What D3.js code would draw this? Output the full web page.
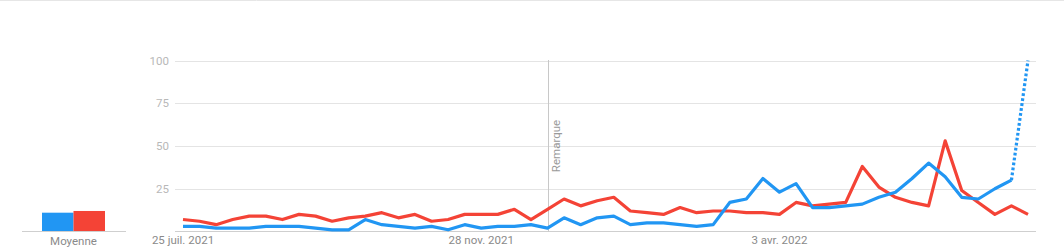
<!DOCTYPE html>
<html>
<head>
<meta charset="utf-8">
<script src="https://cdn.jsdelivr.net/npm/d3@7"></script>
<style>
  body { margin: 0; background: #fff; }
  svg { display: block; font-family: Roboto, "Noto Sans", sans-serif; }
</style>
</head>
<body>
<svg id="canvas" width="1064" height="252"></svg>
<script>
/** Weekly values, from 25 juil. 2021 */
const blueValues = [3, 3, 2, 2, 2, 3, 3, 3, 2, 1, 1, 7, 4, 3, 2, 3, 1, 4, 2, 3, 3, 4, 2, 8, 4, 8,
    9, 4, 5, 5, 4, 3, 4, 17, 19, 31, 23, 28, 14, 14, 15, 16, 20, 23, 31, 40, 32, 20, 19, 25, 30, 100];
const redValues = [7, 6, 4, 7, 9, 9, 7, 10, 9, 6, 8, 9, 11, 8, 10, 6, 7, 10, 10, 10, 13, 7, 13, 19, 15, 18,
    20, 12, 11, 10, 14, 11, 12, 12, 11, 11, 10, 17, 15, 16, 17, 38, 26, 20, 17, 15, 53, 24, 17, 10, 15, 10];

/** Averages shown on the left */
const averageLabels = ['blue', 'red'];
const averageValues = [11, 12];

const seriesColors = ['#2196f3', '#f44336'];

const yTicks = [25, 50, 75, 100];
const xTickDates = [Date.UTC(2021, 6, 25), Date.UTC(2021, 10, 28), Date.UTC(2022, 3, 3)];
const xTickLabels = ['25 juil. 2021', '28 nov. 2021', '3 avr. 2022'];
const noteDate = Date.UTC(2021, 11, 26);
const noteLabel = 'Remarque';

const startDate = Date.UTC(2021, 6, 25);
const weekMs = 7 * 24 * 3600 * 1000;
const dates = blueValues.map((v, i) => new Date(startDate + i * weekMs));

let canvas = d3.select('#canvas');

/** Top border */
canvas.append('line')
    .attr('x1', 0).attr('x2', 1064)
    .attr('y1', 0.5).attr('y2', 0.5)
    .attr('stroke', '#e6e6e6');

/** Scales */
let y = d3.scaleLinear().domain([0, 100]).range([231.5, 60.5]);
let x = d3.scaleTime()
    .domain([dates[0], dates[dates.length - 1]])
    .range([183, 1028]);

/** Grid lines */
canvas.append('g')
    .selectAll('line')
    .data(yTicks)
    .enter()
    .append('line')
    .attr('x1', 175).attr('x2', 1036)
    .attr('y1', (d) => Math.round(y(d)) + 0.5)
    .attr('y2', (d) => Math.round(y(d)) + 0.5)
    .attr('stroke', '#e4e4e4');

canvas.append('line')
    .attr('x1', 175).attr('x2', 1036)
    .attr('y1', y(0)).attr('y2', y(0))
    .attr('stroke', '#cfcfcf');

/** Y tick labels */
canvas.append('g')
    .selectAll('text')
    .data(yTicks)
    .enter()
    .append('text')
    .attr('x', 169)
    .attr('y', (d) => y(d) + 4)
    .attr('text-anchor', 'end')
    .attr('font-size', 11.5)
    .attr('fill', '#b8b8b8')
    .text((d) => d);

/** X tick labels */
canvas.append('g')
    .selectAll('text')
    .data(xTickDates)
    .enter()
    .append('text')
    .attr('x', (d) => x(new Date(d)))
    .attr('y', 244)
    .attr('text-anchor', 'middle')
    .attr('font-size', 11.5)
    .attr('fill', '#8a8a8a')
    .text((d, i) => xTickLabels[i]);

/** Note marker */
let noteX = Math.round(x(new Date(noteDate))) + 0.5;
canvas.append('line')
    .attr('x1', noteX).attr('x2', noteX)
    .attr('y1', 60).attr('y2', y(0))
    .attr('stroke', '#c8c8c8');
canvas.append('text')
    .attr('transform', `translate(${noteX + 11},146) rotate(-90)`)
    .attr('text-anchor', 'middle')
    .attr('font-size', 11.5)
    .attr('fill', '#9a9a9a')
    .text(noteLabel);

/** Lines */
let line = d3.line()
    .x((d) => x(d.date))
    .y((d) => y(d.value));

const toPoints = (values) => values.map((v, i) => ({ date: dates[i], value: v }));

let bluePts = toPoints(blueValues);
let redPts = toPoints(redValues);

canvas.append('path')
    .datum(redPts)
    .attr('d', line)
    .attr('fill', 'none')
    .attr('stroke', seriesColors[1])
    .attr('stroke-width', 3.2)
    .attr('stroke-linejoin', 'round');

canvas.append('path')
    .datum(bluePts.slice(0, bluePts.length - 1))
    .attr('d', line)
    .attr('fill', 'none')
    .attr('stroke', seriesColors[0])
    .attr('stroke-width', 3.2)
    .attr('stroke-linejoin', 'round');

/** Partial last week, dotted */
canvas.append('path')
    .datum(bluePts.slice(bluePts.length - 2))
    .attr('d', line)
    .attr('fill', 'none')
    .attr('stroke', seriesColors[0])
    .attr('stroke-width', 3.2)
    .attr('stroke-dasharray', '2.8,2.2');

/** Averages panel */
let avgX = d3.scaleBand().domain(averageLabels).range([42, 105]);
canvas.append('g')
    .selectAll('rect')
    .data(averageValues)
    .enter()
    .append('rect')
    .attr('x', (d, i) => avgX(averageLabels[i]))
    .attr('width', avgX.bandwidth())
    .attr('y', (d) => y(d))
    .attr('height', (d) => y(0) - y(d))
    .attr('fill', (d, i) => seriesColors[i]);

canvas.append('line')
    .attr('x1', 22).attr('x2', 126)
    .attr('y1', y(0)).attr('y2', y(0))
    .attr('stroke', '#cfcfcf');

canvas.append('text')
    .attr('x', 73.5)
    .attr('y', 245)
    .attr('text-anchor', 'middle')
    .attr('font-size', 11.5)
    .attr('fill', '#8a8a8a')
    .text('Moyenne');
</script>
</body>
</html>
